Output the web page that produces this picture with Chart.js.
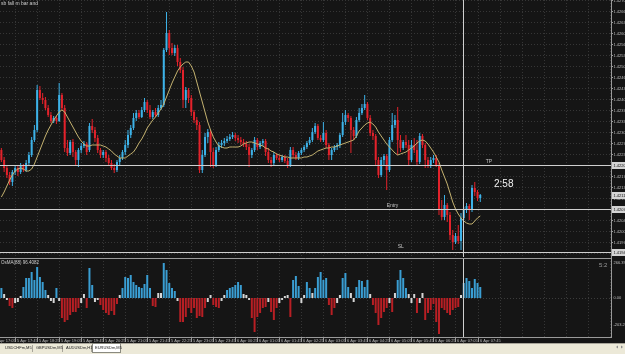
<!DOCTYPE html>
<html>
<head>
<meta charset="utf-8">
<script src="https://cdn.jsdelivr.net/npm/chart.js@4.4.1/dist/chart.umd.min.js"></script>
<style>
  html, body { margin: 0; padding: 0; width: 625px; height: 354px; overflow: hidden; background: #151515; }
  #main { position: absolute; left: 0; top: 0; }
  #sub { position: absolute; left: 0; top: 258px; }
</style>
</head>
<body>
<canvas id="main" width="625" height="258"></canvas>
<canvas id="sub" width="625" height="96"></canvas>
<script>
// EURUSDm M5 candles (5 Apr 17:20 -> 6 Apr 07:50)
const openP = [
  1.42250, 1.42220, 1.42196, 1.42175, 1.42154, 1.42184, 1.42196, 1.42184, 1.42202, 1.42190,
  1.42211, 1.42235, 1.42280, 1.42310, 1.42430, 1.42406, 1.42400, 1.42376, 1.42355, 1.42337,
  1.42346, 1.42337, 1.42415, 1.42376, 1.42256, 1.42241, 1.42274, 1.42244, 1.42220, 1.42250,
  1.42262, 1.42268, 1.42250, 1.42322, 1.42310, 1.42286, 1.42250, 1.42235, 1.42244, 1.42226,
  1.42211, 1.42196, 1.42190, 1.42214, 1.42226, 1.42244, 1.42265, 1.42295, 1.42316, 1.42346,
  1.42361, 1.42349, 1.42370, 1.42394, 1.42370, 1.42349, 1.42364, 1.42355, 1.42376, 1.42385,
  1.42550, 1.42601, 1.42556, 1.42541, 1.42556, 1.42514, 1.42490, 1.42400, 1.42430, 1.42406,
  1.42364, 1.42340, 1.42325, 1.42190, 1.42235, 1.42289, 1.42304, 1.42244, 1.42205, 1.42250,
  1.42265, 1.42271, 1.42277, 1.42283, 1.42289, 1.42295, 1.42286, 1.42280, 1.42274, 1.42268,
  1.42259, 1.42235, 1.42250, 1.42280, 1.42259, 1.42271, 1.42277, 1.42244, 1.42220, 1.42211,
  1.42235, 1.42226, 1.42220, 1.42229, 1.42217, 1.42205, 1.42250, 1.42235, 1.42226, 1.42241,
  1.42250, 1.42259, 1.42271, 1.42280, 1.42304, 1.42322, 1.42286, 1.42280, 1.42301, 1.42265,
  1.42235, 1.42250, 1.42259, 1.42265, 1.42295, 1.42334, 1.42355, 1.42346, 1.42310, 1.42292,
  1.42340, 1.42361, 1.42376, 1.42388, 1.42346, 1.42301, 1.42292, 1.42220, 1.42175, 1.42220,
  1.42232, 1.42190, 1.42280, 1.42325, 1.42340, 1.42280, 1.42256, 1.42274, 1.42265, 1.42220,
  1.42265, 1.42250, 1.42214, 1.42292, 1.42265, 1.42220, 1.42202, 1.42220, 1.42226, 1.42205,
  1.42070, 1.42049, 1.42085, 1.42055, 1.41995, 1.41974, 1.41992, 1.41977, 1.42046, 1.42070,
  1.42082, 1.42070, 1.42136, 1.42124, 1.42106
];
const highP = [
  1.42256, 1.42229, 1.42205, 1.42184, 1.42190, 1.42205, 1.42202, 1.42211, 1.42208, 1.42220,
  1.42244, 1.42289, 1.42325, 1.42445, 1.42442, 1.42421, 1.42409, 1.42385, 1.42364, 1.42352,
  1.42352, 1.42451, 1.42421, 1.42385, 1.42280, 1.42280, 1.42283, 1.42250, 1.42256, 1.42271,
  1.42277, 1.42274, 1.42331, 1.42343, 1.42319, 1.42295, 1.42256, 1.42250, 1.42250, 1.42235,
  1.42220, 1.42208, 1.42220, 1.42235, 1.42250, 1.42280, 1.42310, 1.42325, 1.42361, 1.42370,
  1.42370, 1.42379, 1.42406, 1.42400, 1.42385, 1.42370, 1.42376, 1.42385, 1.42400, 1.42556,
  1.42664, 1.42610, 1.42571, 1.42565, 1.42565, 1.42526, 1.42499, 1.42439, 1.42436, 1.42415,
  1.42370, 1.42349, 1.42334, 1.42250, 1.42301, 1.42313, 1.42310, 1.42256, 1.42259, 1.42274,
  1.42280, 1.42286, 1.42292, 1.42298, 1.42304, 1.42301, 1.42295, 1.42289, 1.42283, 1.42277,
  1.42268, 1.42256, 1.42289, 1.42286, 1.42277, 1.42283, 1.42283, 1.42256, 1.42229, 1.42244,
  1.42241, 1.42235, 1.42235, 1.42235, 1.42226, 1.42259, 1.42259, 1.42244, 1.42247, 1.42256,
  1.42265, 1.42277, 1.42289, 1.42316, 1.42331, 1.42328, 1.42295, 1.42334, 1.42310, 1.42271,
  1.42256, 1.42265, 1.42271, 1.42301, 1.42361, 1.42370, 1.42361, 1.42352, 1.42319, 1.42349,
  1.42376, 1.42388, 1.42415, 1.42394, 1.42355, 1.42310, 1.42298, 1.42229, 1.42229, 1.42238,
  1.42238, 1.42289, 1.42361, 1.42355, 1.42379, 1.42295, 1.42280, 1.42295, 1.42280, 1.42280,
  1.42286, 1.42280, 1.42301, 1.42298, 1.42271, 1.42229, 1.42229, 1.42235, 1.42235, 1.42211,
  1.42100, 1.42115, 1.42091, 1.42064, 1.42010, 1.42001, 1.42025, 1.42061, 1.42079, 1.42091,
  1.42088, 1.42145, 1.42154, 1.42130, 1.42118
];
const lowP = [
  1.42214, 1.42184, 1.42166, 1.42145, 1.42142, 1.42175, 1.42172, 1.42178, 1.42184, 1.42184,
  1.42205, 1.42229, 1.42274, 1.42304, 1.42400, 1.42388, 1.42370, 1.42349, 1.42331, 1.42331,
  1.42328, 1.42334, 1.42370, 1.42244, 1.42232, 1.42235, 1.42229, 1.42205, 1.42199, 1.42241,
  1.42256, 1.42235, 1.42244, 1.42301, 1.42274, 1.42241, 1.42226, 1.42226, 1.42214, 1.42202,
  1.42190, 1.42181, 1.42184, 1.42205, 1.42220, 1.42235, 1.42256, 1.42286, 1.42310, 1.42337,
  1.42343, 1.42346, 1.42364, 1.42361, 1.42343, 1.42343, 1.42349, 1.42349, 1.42370, 1.42379,
  1.42544, 1.42535, 1.42535, 1.42532, 1.42502, 1.42481, 1.42376, 1.42376, 1.42391, 1.42352,
  1.42331, 1.42310, 1.42181, 1.42181, 1.42229, 1.42271, 1.42199, 1.42196, 1.42199, 1.42244,
  1.42256, 1.42262, 1.42271, 1.42277, 1.42283, 1.42277, 1.42271, 1.42265, 1.42259, 1.42250,
  1.42199, 1.42226, 1.42244, 1.42250, 1.42253, 1.42262, 1.42232, 1.42211, 1.42199, 1.42205,
  1.42220, 1.42214, 1.42214, 1.42211, 1.42196, 1.42199, 1.42226, 1.42220, 1.42220, 1.42235,
  1.42244, 1.42253, 1.42265, 1.42274, 1.42298, 1.42280, 1.42274, 1.42274, 1.42256, 1.42220,
  1.42220, 1.42244, 1.42250, 1.42256, 1.42289, 1.42325, 1.42334, 1.42241, 1.42280, 1.42286,
  1.42334, 1.42355, 1.42370, 1.42340, 1.42292, 1.42280, 1.42205, 1.42166, 1.42169, 1.42202,
  1.42130, 1.42184, 1.42274, 1.42316, 1.42235, 1.42244, 1.42250, 1.42256, 1.42205, 1.42214,
  1.42241, 1.42205, 1.42208, 1.42256, 1.42196, 1.42196, 1.42196, 1.42211, 1.42199, 1.42055,
  1.42040, 1.42040, 1.42034, 1.41980, 1.41950, 1.41968, 1.41968, 1.41950, 1.42040, 1.42061,
  1.42040, 1.42064, 1.42112, 1.42097, 1.42094
];
const closeP = [
  1.42220, 1.42196, 1.42175, 1.42154, 1.42184, 1.42196, 1.42184, 1.42202, 1.42190, 1.42211,
  1.42235, 1.42280, 1.42310, 1.42430, 1.42406, 1.42400, 1.42376, 1.42355, 1.42337, 1.42346,
  1.42337, 1.42415, 1.42376, 1.42256, 1.42241, 1.42274, 1.42244, 1.42220, 1.42250, 1.42262,
  1.42268, 1.42244, 1.42322, 1.42310, 1.42286, 1.42250, 1.42235, 1.42244, 1.42226, 1.42211,
  1.42196, 1.42190, 1.42214, 1.42226, 1.42244, 1.42265, 1.42295, 1.42316, 1.42346, 1.42361,
  1.42349, 1.42370, 1.42394, 1.42370, 1.42349, 1.42364, 1.42355, 1.42376, 1.42385, 1.42550,
  1.42601, 1.42556, 1.42541, 1.42556, 1.42514, 1.42490, 1.42400, 1.42430, 1.42406, 1.42364,
  1.42340, 1.42325, 1.42190, 1.42235, 1.42289, 1.42304, 1.42244, 1.42205, 1.42250, 1.42265,
  1.42271, 1.42277, 1.42283, 1.42289, 1.42295, 1.42286, 1.42280, 1.42274, 1.42268, 1.42259,
  1.42235, 1.42250, 1.42280, 1.42259, 1.42271, 1.42277, 1.42244, 1.42220, 1.42211, 1.42235,
  1.42226, 1.42220, 1.42229, 1.42217, 1.42205, 1.42250, 1.42235, 1.42226, 1.42241, 1.42250,
  1.42259, 1.42271, 1.42280, 1.42304, 1.42322, 1.42286, 1.42280, 1.42301, 1.42265, 1.42235,
  1.42250, 1.42259, 1.42265, 1.42295, 1.42334, 1.42355, 1.42346, 1.42310, 1.42292, 1.42340,
  1.42361, 1.42376, 1.42388, 1.42346, 1.42301, 1.42292, 1.42220, 1.42175, 1.42220, 1.42232,
  1.42190, 1.42280, 1.42325, 1.42340, 1.42280, 1.42256, 1.42274, 1.42265, 1.42220, 1.42265,
  1.42250, 1.42214, 1.42292, 1.42265, 1.42220, 1.42202, 1.42220, 1.42226, 1.42205, 1.42070,
  1.42049, 1.42085, 1.42055, 1.41995, 1.41974, 1.41992, 1.41977, 1.42046, 1.42070, 1.42082,
  1.42070, 1.42136, 1.42124, 1.42106, 1.42115
];
// moving average drawn on the price window
const maP = [
  1.42109, 1.42124, 1.42142, 1.42160, 1.42175, 1.42187, 1.42193, 1.42196, 1.42193, 1.42187,
  1.42187, 1.42193, 1.42208, 1.42229, 1.42250, 1.42271, 1.42292, 1.42310, 1.42325, 1.42340,
  1.42352, 1.42364, 1.42370, 1.42364, 1.42349, 1.42334, 1.42319, 1.42304, 1.42289, 1.42277,
  1.42268, 1.42262, 1.42262, 1.42265, 1.42265, 1.42265, 1.42265, 1.42262, 1.42259, 1.42253,
  1.42247, 1.42238, 1.42232, 1.42226, 1.42226, 1.42226, 1.42232, 1.42238, 1.42244, 1.42256,
  1.42271, 1.42283, 1.42298, 1.42316, 1.42328, 1.42340, 1.42349, 1.42361, 1.42373, 1.42388,
  1.42409, 1.42430, 1.42451, 1.42469, 1.42487, 1.42499, 1.42508, 1.42514, 1.42514, 1.42502,
  1.42484, 1.42454, 1.42424, 1.42394, 1.42364, 1.42334, 1.42310, 1.42289, 1.42274, 1.42262,
  1.42259, 1.42256, 1.42256, 1.42259, 1.42259, 1.42259, 1.42259, 1.42262, 1.42268, 1.42271,
  1.42274, 1.42274, 1.42271, 1.42268, 1.42265, 1.42262, 1.42256, 1.42253, 1.42247, 1.42244,
  1.42238, 1.42235, 1.42232, 1.42229, 1.42229, 1.42226, 1.42226, 1.42226, 1.42226, 1.42226,
  1.42229, 1.42229, 1.42232, 1.42235, 1.42241, 1.42247, 1.42250, 1.42253, 1.42256, 1.42256,
  1.42259, 1.42259, 1.42262, 1.42265, 1.42268, 1.42271, 1.42274, 1.42277, 1.42280, 1.42292,
  1.42307, 1.42316, 1.42325, 1.42331, 1.42334, 1.42328, 1.42319, 1.42304, 1.42292, 1.42280,
  1.42268, 1.42259, 1.42250, 1.42241, 1.42235, 1.42238, 1.42241, 1.42244, 1.42250, 1.42256,
  1.42262, 1.42271, 1.42277, 1.42280, 1.42277, 1.42268, 1.42256, 1.42244, 1.42229, 1.42214,
  1.42190, 1.42169, 1.42148, 1.42121, 1.42094, 1.42073, 1.42058, 1.42046, 1.42037, 1.42031,
  1.42028, 1.42028, 1.42037, 1.42046, 1.42052
];
// oscillator histogram in the lower window
const oscValues = [
  75, 30, -15, -60, -75, -37.5, -30, 15, 82.5, 150,
  150, 195, 135, 232.5, 157.5, 120, 60, 22.5, -22.5, -37.5,
  75, -22.5, -150, -180, -165, -127.5, -105, -105, -75, -37.5,
  30, -75, 225, 97.5, -30, -15, -52.5, -90, -112.5, -127.5,
  -97.5, -127.5, -45, 22.5, 75, 157.5, 150, 172.5, 120, 97.5,
  82.5, 75, 105, 172.5, 75, -60, -67.5, 37.5, 37.5, 262.5,
  210, 112.5, 75, 52.5, -22.5, -180, -180, -142.5, -75, -112.5,
  -75, -150, -135, -142.5, -75, -30, 22.5, -52.5, -67.5, -75,
  -22.5, 22.5, 60, 75, 82.5, 97.5, 120, 97.5, 30, 22.5,
  -15, -150, -255, -142.5, -112.5, -75, -67.5, -30, -105, -165,
  -75, -37.5, -15, 15, 22.5, -142.5, 135, 165, 90, -37.5,
  22.5, 120, 75, 37.5, 75, 157.5, 195, 135, 150, -52.5,
  -127.5, -75, -37.5, 22.5, 150, 187.5, 82.5, 37.5, -30, 82.5,
  135, 127.5, 82.5, 135, 30, -52.5, -112.5, -202.5, -150, -105,
  -75, -37.5, -105, 37.5, 135, 210, 150, 75, 30, -37.5,
  30, -112.5, -37.5, 37.5, -165, -112.5, -90, -45, -180, -270,
  -75, -90, -112.5, -127.5, -90, -75, -67.5, 22.5, 112.5, 150,
  127.5, 75, 142.5, 112.5, 82.5
];

const PRICE_MAX = 1.42700;
const PRICE_MIN = 1.41929;
const PRICE_TICKS = [
  1.42700, 1.42667, 1.42634, 1.42601, 1.42568, 1.42535, 1.42502, 1.42469, 1.42436, 1.42403,
  1.42370, 1.42337, 1.42304, 1.42271, 1.42238, 1.42205, 1.42172, 1.42139, 1.42106, 1.42073,
  1.42040, 1.42007, 1.41974, 1.41941
];
const TP_PRICE = 1.42205;
const ENTRY_PRICE = 1.42073;
const SL_PRICE = 1.41944;
const BID_PRICE = closeP[closeP.length - 1];
const OSC_RANGE = 300;
const OSC_TICKS = [266.399, 0, -203.204];

const TIME_LABELS = [
  '5 Apr 17:05', '5 Apr 17:45', '5 Apr 18:25', '5 Apr 19:05', '5 Apr 19:45', '5 Apr 20:25',
  '5 Apr 21:05', '5 Apr 21:45', '5 Apr 22:25', '5 Apr 23:05', '5 Apr 23:45', '6 Apr 00:25',
  '6 Apr 01:05', '6 Apr 01:45', '6 Apr 02:25', '6 Apr 03:05', '6 Apr 03:45', '6 Apr 04:25',
  '6 Apr 05:05', '6 Apr 05:45', '6 Apr 06:25', '6 Apr 07:05', '6 Apr 07:45'
];
const FIRST_LABEL_BAR = -3;
const BARS_PER_LABEL = 8;
const TOTAL_SLOTS = 222;   // visible bars incl. chart shift
const VLINE_BAR = 168;
const TABS = ['USDCHFm,M5', 'GBPUSDm,M5', 'AUDUSDm,H1', 'EURUSDm,M5'];
const LEVEL_TAGS = [
  { text: 'TP', bar: 176, price: TP_PRICE, dy: -2 },
  { text: 'Entry', bar: 140, price: ENTRY_PRICE, dy: -2 },
  { text: 'SL', bar: 144, price: SL_PRICE, dy: -4 }
];
const TIMER = { text: '2:58', bar: 179, price: 1.42148 };

// colours
const BULL = '#3db2e8', BEAR = '#e3222b', MA_COLOR = '#c4b270';
const GRID = '#363636', LINE_COLOR = '#cfcfcf', AXIS = '#9a9a9a', AXIS_TEXT = '#bcbcbc';
const OSC_UP = '#3a9ed3', OSC_DN = '#b81f24', OSC_FLAT = '#d6d6d6';

const slots = Array.from({ length: TOTAL_SLOTS }, (_, i) => String(i));
const candleColors = closeP.map((c, i) => c >= openP[i] ? BULL : BEAR);
const oscColors = oscValues.map(v => Math.abs(v) <= 37.5 ? OSC_FLAT : (v > 0 ? OSC_UP : OSC_DN));

function seg(ctx, x1, y1, x2, y2, color, dash) {
  ctx.save();
  ctx.strokeStyle = color; ctx.lineWidth = 1;
  if (dash) ctx.setLineDash(dash);
  ctx.beginPath(); ctx.moveTo(x1, y1); ctx.lineTo(x2, y2); ctx.stroke();
  ctx.restore();
}

function timeGrid(ctx, x, top, bottom, area) {
  for (let b = FIRST_LABEL_BAR; b < TOTAL_SLOTS; b += BARS_PER_LABEL) {
    const px = Math.round(x.getPixelForValue(b)) + 0.5;
    if (px < area.left || px > area.right) continue;
    seg(ctx, px, top, px, bottom, GRID, [1, 2]);
  }
}

const mainDecor = {
  id: 'mainDecor',
  beforeDatasetsDraw(chart) {
    const { ctx, chartArea: a, scales: { x, y } } = chart;
    PRICE_TICKS.forEach(p => {
      const py = Math.round(y.getPixelForValue(p)) + 0.5;
      seg(ctx, a.left, py, a.right, py, GRID, [1, 2]);
    });
    timeGrid(ctx, x, a.top, a.bottom, a);
  },
  afterDatasetsDraw(chart) {
    const { ctx, chartArea: a, scales: { x, y } } = chart;
    [TP_PRICE, ENTRY_PRICE, SL_PRICE].forEach(p => {
      const py = Math.round(y.getPixelForValue(p)) + 0.5;
      seg(ctx, a.left, py, a.right, py, LINE_COLOR);
    });
    const vx = Math.floor(x.getPixelForValue(VLINE_BAR)) + 0.5;
    seg(ctx, vx, a.top, vx, a.bottom, LINE_COLOR);

    ctx.save();
    ctx.font = '5px Arial'; ctx.fillStyle = '#c4c4c4';
    ctx.textAlign = 'left'; ctx.textBaseline = 'alphabetic';
    LEVEL_TAGS.forEach(t => ctx.fillText(t.text, x.getPixelForValue(t.bar), y.getPixelForValue(t.price) + t.dy));

    ctx.font = '10px Arial'; ctx.fillStyle = '#f2f2f2'; ctx.textBaseline = 'middle';
    ctx.fillText(TIMER.text, x.getPixelForValue(TIMER.bar), y.getPixelForValue(TIMER.price));

    ctx.font = '5px Arial'; ctx.fillStyle = '#d0d0d0'; ctx.textBaseline = 'top';
    ctx.fillText('sb fall m bar and', 1, 1);

    // price axis
    seg(ctx, a.right + 0.5, 0, a.right + 0.5, chart.height, AXIS);
    ctx.font = '4px Arial'; ctx.fillStyle = AXIS_TEXT; ctx.textBaseline = 'middle';
    PRICE_TICKS.forEach(p => {
      const py = y.getPixelForValue(p);
      seg(ctx, a.right, Math.round(py) + 0.5, a.right + 2, Math.round(py) + 0.5, AXIS);
      ctx.fillText(p.toFixed(5), a.right + 2.5, py + 0.5);
    });
    [TP_PRICE, BID_PRICE, ENTRY_PRICE, SL_PRICE].forEach(p => {
      const py = Math.round(y.getPixelForValue(p));
      ctx.fillStyle = '#d4d4d4';
      ctx.fillRect(a.right + 1, py - 3, 14, 7);
      ctx.fillStyle = '#111';
      ctx.fillText(p.toFixed(5), a.right + 2.5, py + 0.5);
    });
    ctx.restore();
  }
};

const subDecor = {
  id: 'subDecor',
  beforeDatasetsDraw(chart) {
    const { ctx, chartArea: a, scales: { x, y } } = chart;
    timeGrid(ctx, x, a.top, a.bottom, a);
    const zy = Math.round(y.getPixelForValue(0)) + 0.5;
    seg(ctx, a.left, zy, a.right, zy, '#3c3c3c', [1, 2]);
  },
  afterDatasetsDraw(chart) {
    const { ctx, chartArea: a, scales: { x, y } } = chart;
    const vx = Math.floor(x.getPixelForValue(VLINE_BAR)) + 0.5;
    seg(ctx, vx, a.top, vx, a.bottom, LINE_COLOR);
    seg(ctx, a.left, 0.5, a.right, 0.5, AXIS);
    seg(ctx, a.left, a.bottom - 0.5, a.right, a.bottom - 0.5, AXIS);
    seg(ctx, a.right + 0.5, 0, a.right + 0.5, a.bottom, AXIS);

    ctx.save();
    ctx.font = '4px Arial'; ctx.fillStyle = AXIS_TEXT;
    ctx.textAlign = 'left'; ctx.textBaseline = 'middle';
    OSC_TICKS.forEach(v => {
      const py = Math.min(Math.max(y.getPixelForValue(v), a.top + 3), a.bottom - 3);
      ctx.fillText(v === 0 ? '0.00' : v.toFixed(3), a.right + 2.5, py);
    });
    ctx.font = '4.5px Arial'; ctx.fillStyle = '#cfcfcf'; ctx.textBaseline = 'top';
    ctx.fillText('OsMA(88) 96.4082', 1, 3);
    ctx.font = '6px Arial'; ctx.fillStyle = '#9c9c9c';
    ctx.fillText('5:2', a.right - 12, 4);
    ctx.restore();
  },
  afterDraw(chart) {
    const { ctx, chartArea: a, scales: { x } } = chart;
    ctx.save();
    // time scale
    ctx.font = '4px Arial'; ctx.fillStyle = AXIS_TEXT;
    ctx.textAlign = 'left'; ctx.textBaseline = 'middle';
    TIME_LABELS.forEach((t, k) => {
      const px = Math.round(x.getPixelForValue(FIRST_LABEL_BAR + k * BARS_PER_LABEL)) + 0.5;
      seg(ctx, px, a.bottom, px, a.bottom + 4, AXIS);
      ctx.fillText(t, px + 1.5, a.bottom + 2.5);
    });
    // symbol tabs
    const ty = a.bottom + 5;
    ctx.fillStyle = '#ece9d8';
    ctx.fillRect(0, ty, chart.width, chart.height - ty);
    seg(ctx, 0, ty + 0.5, chart.width, ty + 0.5, '#a8a59a');
    const tabX = [2, 33, 63, 92, 121];
    ctx.font = '4px Arial'; ctx.textBaseline = 'middle';
    TABS.forEach((name, i) => {
      const x0 = tabX[i], x1 = tabX[i + 1] - 1;
      const active = i === TABS.length - 1;
      if (active) {
        ctx.fillStyle = '#ffffff';
        ctx.fillRect(x0, ty, x1 - x0, 9);
        ctx.strokeStyle = '#8a8a80'; ctx.lineWidth = 1;
        ctx.strokeRect(x0 + 0.5, ty + 0.5, x1 - x0, 9);
      } else {
        seg(ctx, x1 + 0.5, ty + 2, x1 + 0.5, ty + 9, '#a8a59a');
      }
      ctx.fillStyle = '#222';
      ctx.fillText(name, x0 + 3, ty + 5);
    });
    // scroll arrows
    ctx.fillStyle = '#8c8c8c';
    ctx.beginPath(); ctx.moveTo(616, ty + 4); ctx.lineTo(618, ty + 2.5); ctx.lineTo(618, ty + 5.5); ctx.fill();
    ctx.beginPath(); ctx.moveTo(623, ty + 4); ctx.lineTo(621, ty + 2.5); ctx.lineTo(621, ty + 5.5); ctx.fill();
    ctx.restore();
  }
};

Chart.defaults.font.family = 'Arial';

new Chart(document.getElementById('main'), {
  type: 'bar',
  data: {
    labels: slots,
    datasets: [
      { type: 'line', data: maP, borderColor: MA_COLOR, borderWidth: 1, pointRadius: 0, tension: 0, order: 0 },
      { data: lowP.map((l, i) => [l, highP[i]]), backgroundColor: candleColors, barThickness: 1,
        grouped: false, inflateAmount: 0, order: 2 },
      { data: openP.map((o, i) => [o, closeP[i]]), backgroundColor: candleColors, barThickness: 2,
        grouped: false, inflateAmount: 0, minBarLength: 1, order: 1 }
    ]
  },
  options: {
    responsive: false, animation: false, events: [],
    layout: { padding: { left: 0, top: 0, right: 14, bottom: 1 } },
    plugins: { legend: { display: false }, tooltip: { enabled: false } },
    scales: {
      x: { display: false, offset: true },
      y: { display: false, min: PRICE_MIN, max: PRICE_MAX }
    }
  },
  plugins: [mainDecor]
});

new Chart(document.getElementById('sub'), {
  type: 'bar',
  data: {
    labels: slots,
    datasets: [
      { data: oscValues, backgroundColor: oscColors, barThickness: 2, inflateAmount: 0 }
    ]
  },
  options: {
    responsive: false, animation: false, events: [],
    layout: { padding: { left: 0, top: 0, right: 14, bottom: 16 } },
    plugins: { legend: { display: false }, tooltip: { enabled: false } },
    scales: {
      x: { display: false, offset: true },
      y: { display: false, min: -OSC_RANGE, max: OSC_RANGE }
    }
  },
  plugins: [subDecor]
});
</script>
</body>
</html>
